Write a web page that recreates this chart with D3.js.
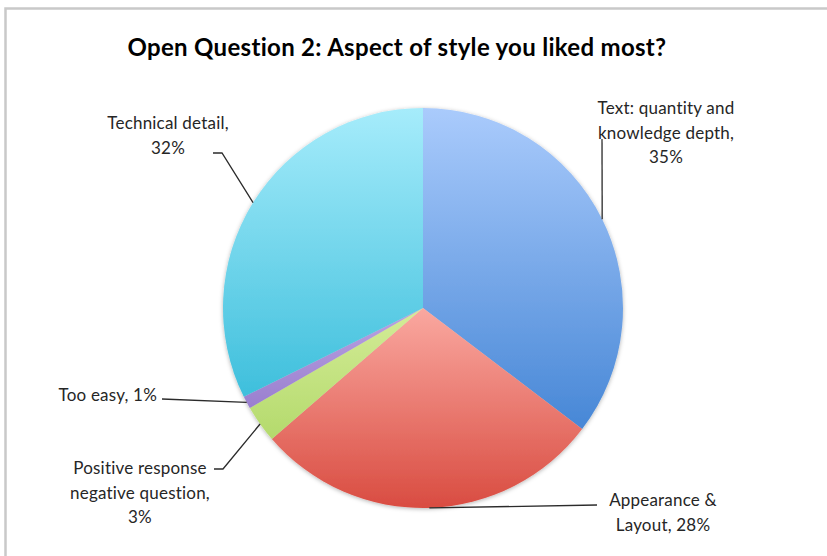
<!DOCTYPE html>
<html>
<head>
<meta charset="utf-8">
<script src="https://cdn.jsdelivr.net/npm/d3@7"></script>
<style>
  html, body { margin: 0; background: #fff; overflow: hidden; }
  svg { display: block; }
  text { font-family: Lato, "Open Sans", sans-serif; fill: #262626; }
</style>
</head>
<body>
<div id="chart"></div>
<script>
// slices, clockwise from 12 o'clock
const categories = [
  "Text: quantity and knowledge depth",
  "Appearance & Layout",
  "Positive response negative question",
  "Too easy",
  "Technical detail"
];
const values = [35, 28, 3, 1, 32];
const labelLines = [
  ["Text: quantity and", "knowledge depth,", "{p}"],
  ["Appearance &", "Layout, {p}"],
  ["Positive response", "negative question,", "{p}"],
  ["Too easy, {p}"],
  ["Technical detail,", "{p}"]
];
const colorTop = ["#aacbfc", "#faa8a0", "#d4ec98", "#b9a3e2", "#a6ecfb"];
const colorBottom = ["#4787d6", "#d94c41", "#b4da6c", "#9a7fcf", "#3ebfdc"];

const width = 827, height = 556;
const cx = 423, cy = 308, radius = 200;

// label placement: text block (x, first baseline, anchor), leader path points (after the arc point)
const labelLayout = [
  { x: 666, y: 114, anchor: "middle", leader: [[602, 139]] },
  { x: 663, y: 506, anchor: "middle", leader: [[597, 505]] },
  { x: 140, y: 474, anchor: "middle", leader: [[223, 469], [214, 469]] },
  { x: 157, y: 401, anchor: "end", leader: [[162, 399]] },
  { x: 168, y: 129, anchor: "middle", leader: [[222, 153], [213, 153]] }
];

const svg = d3.select("#chart").append("svg")
  .attr("width", width)
  .attr("height", height);

// chart frame (only top and left edges are inside the picture)
svg.append("path")
  .attr("d", `M5.5,${height}V8.5H${width}`)
  .attr("fill", "none")
  .attr("stroke", "#c9c9c9")
  .attr("stroke-width", 2.5);

const defs = svg.append("defs");
colorTop.forEach((c, i) => {
  const g = defs.append("linearGradient")
    .attr("id", "grad" + i)
    .attr("x1", 0).attr("y1", 0)
    .attr("x2", 0).attr("y2", 1);
  g.append("stop").attr("offset", "0%").attr("stop-color", c);
  g.append("stop").attr("offset", "100%").attr("stop-color", colorBottom[i]);
});
const shadow = defs.append("filter").attr("id", "shadow")
  .attr("x", "-10%").attr("y", "-10%").attr("width", "120%").attr("height", "120%");
shadow.append("feDropShadow")
  .attr("dx", 0).attr("dy", 1).attr("stdDeviation", 2)
  .attr("flood-color", "#000").attr("flood-opacity", 0.3);

svg.append("text")
  .attr("x", 397).attr("y", 56)
  .attr("text-anchor", "middle")
  .attr("font-size", "24px")
  .attr("font-weight", "bold")
  .attr("letter-spacing", "0.3px")
  .style("fill", "#000")
  .text("Open Question 2: Aspect of style you liked most?");

const total = d3.sum(values);
const pie = d3.pie().sort(null).value((d) => d);
const arcs = pie(values);
const arc = d3.arc().innerRadius(0).outerRadius(radius);

const g = svg.append("g").attr("transform", `translate(${cx},${cy})`);
g.append("g").attr("filter", "url(#shadow)")
  .selectAll("path")
  .data(arcs)
  .join("path")
  .attr("d", arc)
  .attr("fill", (d, i) => `url(#grad${i})`);

// leader lines start at the middle of each slice's outer edge
const line = d3.line();
arcs.forEach((d, i) => {
  const mid = (d.startAngle + d.endAngle) / 2;
  const p0 = [cx + radius * Math.sin(mid), cy - radius * Math.cos(mid)];
  const pts = [p0].concat(labelLayout[i].leader);
  svg.append("path")
    .attr("d", line(pts))
    .attr("fill", "none")
    .attr("stroke", "#2b2b2b")
    .attr("stroke-width", 1.3);

  const pct = Math.round((d.value / total) * 100) + "%";
  const t = svg.append("text")
    .attr("x", labelLayout[i].x)
    .attr("y", labelLayout[i].y)
    .attr("text-anchor", labelLayout[i].anchor)
    .attr("font-size", "17px")
    .attr("letter-spacing", "0.2px");
  labelLines[i].forEach((s, j) => {
    t.append("tspan")
      .attr("x", labelLayout[i].x)
      .attr("dy", j === 0 ? 0 : 24.5)
      .text(s.replace("{p}", pct));
  });
});
</script>
</body>
</html>
